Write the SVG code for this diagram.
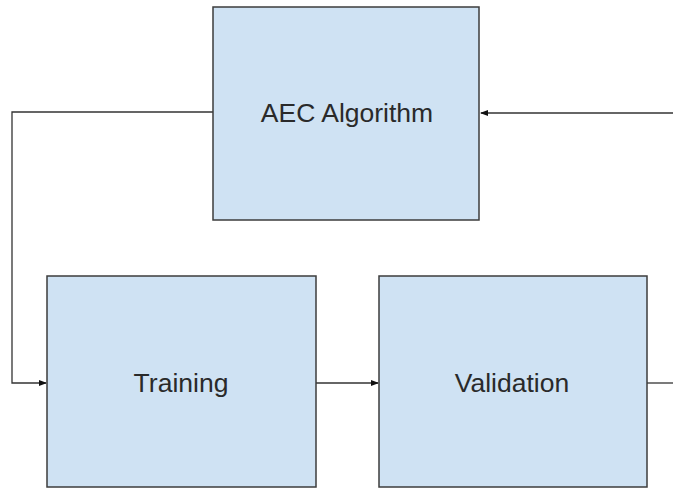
<svg xmlns="http://www.w3.org/2000/svg" width="673" height="488" viewBox="0 0 673 488">
  <style>
    .box { fill: #cfe2f3; stroke: #3d3d3d; stroke-width: 1.5; }
    .label { font-family: "Liberation Sans", Arial, sans-serif; font-size: 26.5px; fill: #2a2a2a; text-anchor: middle; }
    .wire { fill: none; stroke: #333; stroke-width: 1.3; }
  </style>
  <defs>
    <marker id="arrow" markerWidth="8" markerHeight="6" refX="7" refY="3" orient="auto" markerUnits="userSpaceOnUse">
      <path d="M0,0 L8,3 L0,6 Z" fill="#111"/>
    </marker>
  </defs>
  <rect width="673" height="488" fill="#fff"/>

  <g id="connectors">
    <!-- feedback into the algorithm from the right -->
    <line class="wire" x1="673" y1="113" x2="481" y2="113" marker-end="url(#arrow)"/>
    <!-- algorithm out to training -->
    <polyline class="wire" points="213,112 12,112 12,383 46,383" marker-end="url(#arrow)"/>
    <!-- training to validation -->
    <line class="wire" x1="316" y1="383" x2="378" y2="383" marker-end="url(#arrow)"/>
    <!-- validation output -->
    <line class="wire" x1="647" y1="383" x2="673" y2="383" stroke="#888"/>
  </g>

  <g id="aec-algorithm">
    <rect class="box" x="213" y="7" width="266" height="213"/>
    <text class="label" x="347" y="122">AEC Algorithm</text>
  </g>

  <g id="training">
    <rect class="box" x="47" y="276" width="269" height="211"/>
    <text class="label" x="181" y="392">Training</text>
  </g>

  <g id="validation">
    <rect class="box" x="379" y="276" width="268" height="211"/>
    <text class="label" x="512" y="392">Validation</text>
  </g>
</svg>
